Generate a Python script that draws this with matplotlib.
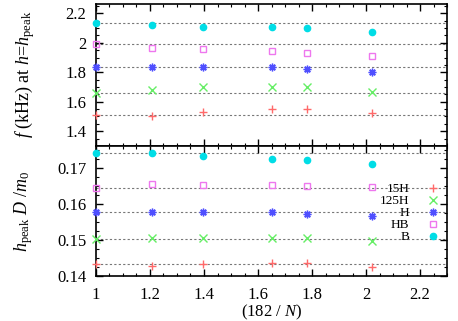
import matplotlib
matplotlib.use('Agg')
import matplotlib.pyplot as plt
from matplotlib.ticker import MultipleLocator

plt.rcParams['font.family'] = ['Liberation Serif', 'DejaVu Serif']
plt.rcParams['mathtext.fontset'] = 'custom'
plt.rcParams['mathtext.rm'] = 'Liberation Serif'
plt.rcParams['mathtext.it'] = 'Liberation Serif:italic'

# x = 182 / N
x = [1.0, 1.208, 1.398, 1.653, 1.781, 2.021]
labels = ['15H', '125H', 'H', 'HB', 'B']

# frequency at h = h_peak (kHz)
freq_15H = [1.513, 1.506, 1.528, 1.551, 1.551, 1.524]
freq_125H = [1.662, 1.677, 1.700, 1.700, 1.700, 1.666]
freq_H = [1.833, 1.833, 1.839, 1.839, 1.822, 1.799]
freq_HB = [1.990, 1.966, 1.961, 1.943, 1.930, 1.911]
freq_B = [2.137, 2.121, 2.109, 2.109, 2.100, 2.074]

# h_peak D / m0
hp_15H = [0.1433, 0.1428, 0.1433, 0.1435, 0.1435, 0.1426]
hp_125H = [0.1504, 0.1505, 0.1505, 0.1505, 0.1505, 0.1498]
hp_H = [0.1577, 0.1577, 0.1577, 0.1577, 0.1573, 0.1568]
hp_HB = [0.1644, 0.1656, 0.1654, 0.1654, 0.1651, 0.1647]
hp_B = [0.1742, 0.1742, 0.1734, 0.1727, 0.1723, 0.1713]

freqs = [freq_15H, freq_125H, freq_H, freq_HB, freq_B]
hps = [hp_15H, hp_125H, hp_H, hp_HB, hp_B]

colors = ['#ff6a6a', '#66ee66', '#4f4fff', '#ee77ee', '#00dde6']
markers = ['+', 'x', (8, 2, 0), 's', 'o']
msizes = [6, 5.5, 5.5, 5, 4.5]
fills = ['full', 'full', 'full', 'none', 'full']

fig = plt.figure(figsize=(4.58, 3.21), dpi=100)
ax1 = fig.add_axes([0.2096, 0.5452, 0.7664, 0.4438])
ax2 = fig.add_axes([0.2096, 0.1402, 0.7664, 0.4050])

for ax, data in [(ax1, freqs), (ax2, hps)]:
    for i in range(5):
        ax.axhline(data[i][0], color='#777777', lw=0.8, ls=(0, (2, 2)), zorder=1)
        ax.plot(x, data[i], ls='none', marker=markers[i], color=colors[i],
                ms=msizes[i], mew=1.0, fillstyle=fills[i], label=labels[i],
                zorder=3, clip_on=False)
    ax.set_xlim(1.0, 2.3)
    ax.xaxis.set_major_locator(MultipleLocator(0.2))
    ax.xaxis.set_minor_locator(MultipleLocator(0.05))
    ax.tick_params(which='both', direction='in', top=True, right=True, labelsize=12)
    ax.tick_params(which='major', length=5, width=1)
    ax.tick_params(which='minor', length=2.5, width=0.8)
    ax.tick_params(axis='y', which='major', pad=7)
    ax.tick_params(axis='x', which='major', pad=8)
    for s in ax.spines.values():
        s.set_linewidth(1.2)

ax1.set_ylim(1.30, 2.266)
ax1.yaxis.set_major_locator(MultipleLocator(0.2))
ax1.yaxis.set_minor_locator(MultipleLocator(0.05))
ax1.set_yticks([1.4, 1.6, 1.8, 2.0, 2.2])
ax1.set_yticklabels(['1.4', '1.6', '1.8', '2', '2.2'])
ax1.tick_params(labelbottom=False)
ax1.set_ylabel(r'$f$ (kHz) at $h$=$h_{\rm peak}$', fontsize=13, labelpad=20)

ax2.set_ylim(0.14, 0.1762)
ax2.yaxis.set_major_locator(MultipleLocator(0.01))
ax2.yaxis.set_minor_locator(MultipleLocator(0.0025))
ax2.set_xticks([1.0, 1.2, 1.4, 1.6, 1.8, 2.0, 2.2])
ax2.set_xticklabels(['1', '1.2', '1.4', '1.6', '1.8', '2', '2.2'])
ax2.set_ylabel(r'$h_{\rm peak}$ $D$ /$m_0$', fontsize=13, labelpad=16)
ax2.set_xlabel(r'(182 / $N$)', fontsize=12, labelpad=0)

ax2.legend(loc='upper right', bbox_to_anchor=(1.0, 0.77), frameon=False,
           markerfirst=False, fontsize=9.5, handlelength=1.0, handletextpad=1.3,
           labelspacing=-0.02, borderaxespad=0.15)

fig.savefig('out.png', dpi=100)
